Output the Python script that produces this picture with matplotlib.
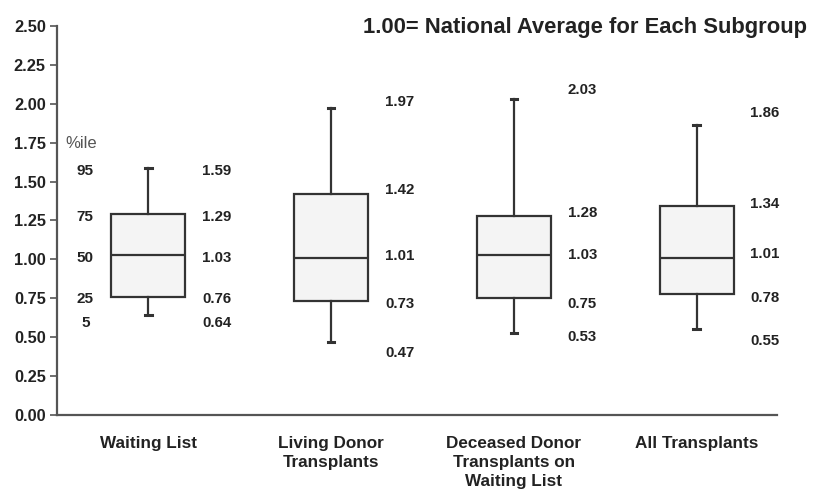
import matplotlib
matplotlib.use('Agg')
import matplotlib.pyplot as plt
import numpy as np

categories = ['Waiting List', 'Living Donor\nTransplants',
              'Deceased Donor\nTransplants on\nWaiting List', 'All Transplants']
p95 = [1.59, 1.97, 2.03, 1.86]
p75 = [1.29, 1.42, 1.28, 1.34]
p50 = [1.03, 1.01, 1.03, 1.01]
p25 = [0.76, 0.73, 0.75, 0.78]
p05 = [0.64, 0.47, 0.53, 0.55]
percentiles = ['95', '75', '50', '25', '5']
title = '1.00= National Average for Each Subgroup'

# label placement (data units), nudged like the original so they don't overlap
label_y = [
    [1.57, 1.27, 1.01, 0.745, 0.59],
    [2.01, 1.445, 1.02, 0.71, 0.40],
    [2.09, 1.30, 1.03, 0.71, 0.50],
    [1.94, 1.355, 1.035, 0.75, 0.475],
]

plt.rcParams['font.family'] = ['Liberation Sans', 'DejaVu Sans']
ink = '#222222'
line = '#333333'

fig = plt.figure(figsize=(8.34, 4.91), dpi=100)
ax = fig.add_axes([0.0683, 0.1548, 0.8633, 0.7925])

pos = np.arange(1, len(categories) + 1)
stats = []
for i in range(len(categories)):
    stats.append(dict(whislo=p05[i], q1=p25[i], med=p50[i], q3=p75[i],
                      whishi=p95[i], fliers=[]))

ax.bxp(stats, positions=pos, widths=0.405, capwidths=0.035, patch_artist=True,
       showfliers=False,
       boxprops=dict(facecolor='#f4f4f4', edgecolor=line, linewidth=1.6),
       medianprops=dict(color=line, linewidth=1.6),
       whiskerprops=dict(color=line, linewidth=1.6),
       capprops=dict(color=line, linewidth=2.2))

# value labels to the right of each box
for i in range(len(categories)):
    vals = [p95[i], p75[i], p50[i], p25[i], p05[i]]
    for v, y in zip(vals, label_y[i]):
        ax.text(pos[i] + 0.375, y, f'{v:.2f}', ha='center', va='center',
                fontsize=10.8, fontweight='bold', color=ink)

# percentile key on the left
ax.text(0.545, 1.745, '%ile', ha='left', va='center', fontsize=12, color='#555555')
for p, y in zip(percentiles, label_y[0]):
    ax.text(0.655, y, p, ha='center', va='center', fontsize=11,
            fontweight='bold', color=ink)

ax.set_xlim(0.5, 4.44)
ax.set_ylim(0, 2.5)
ax.set_yticks(np.arange(0, 2.51, 0.25))
ax.set_yticklabels([f'{t:.2f}' for t in np.arange(0, 2.51, 0.25)],
                   fontsize=11.8, fontweight='bold', color=ink)
ax.set_xticks(pos)
ax.set_xticklabels(categories, fontsize=12.3, fontweight='bold', color=ink,
                   linespacing=1.33)
ax.tick_params(axis='x', length=0, pad=15)
ax.tick_params(axis='y', length=5, width=1.2, color='#555555', pad=3)

for s in ['top', 'right']:
    ax.spines[s].set_visible(False)
for s in ['left', 'bottom']:
    ax.spines[s].set_color('#555555')
    ax.spines[s].set_linewidth(1.6)

fig.text(0.9676, 0.945, title, ha='right', va='center', fontsize=15.8,
         fontweight='bold', color=ink)

fig.savefig('out.png', dpi=100, facecolor='white')
